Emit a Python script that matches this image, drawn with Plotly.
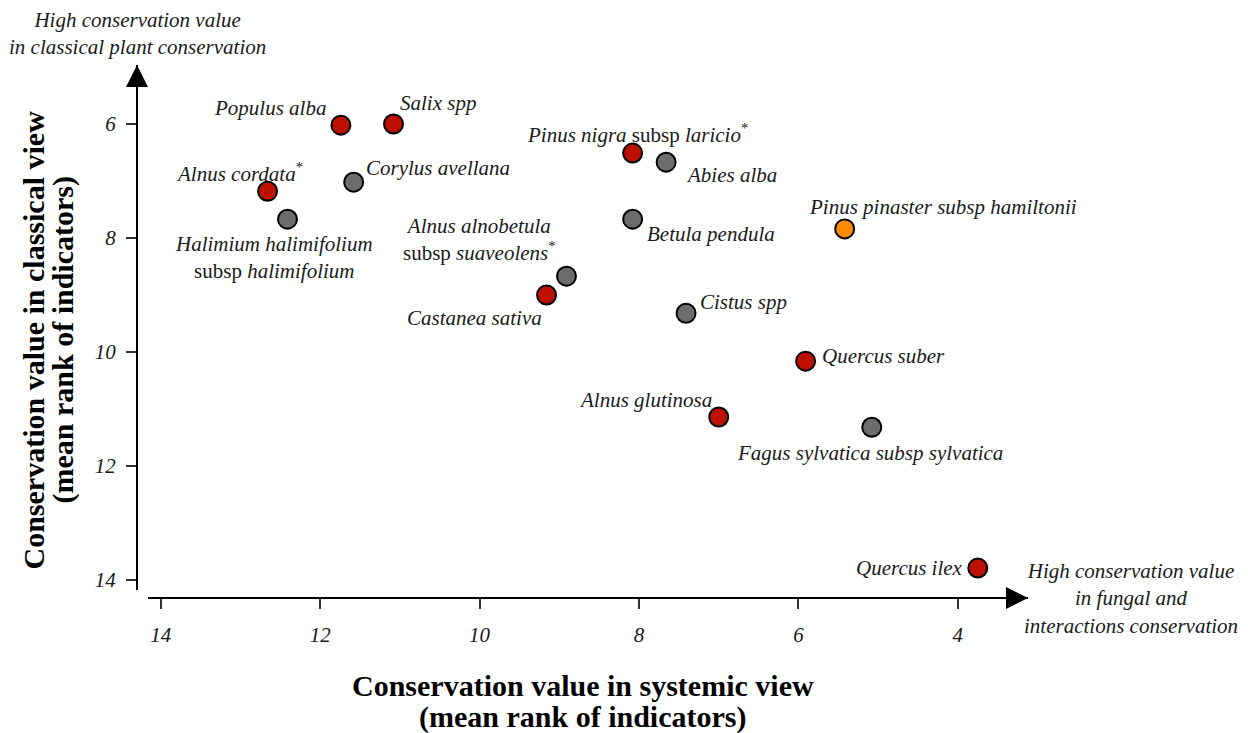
import plotly.graph_objects as go

# --- Data ---
species = [
    "Populus alba", "Salix spp", "Alnus cordata", "Corylus avellana",
    "Halimium halimifolium", "Pinus nigra laricio", "Abies alba", "Betula pendula",
    "Alnus alnobetula", "Castanea sativa", "Cistus spp", "Pinus pinaster hamiltonii",
    "Quercus suber", "Alnus glutinosa", "Fagus sylvatica", "Quercus ilex",
]
label_html = [
    "<i>Populus alba</i>",
    "<i>Salix spp</i>",
    "<i>Alnus cordata</i><sup>*</sup>",
    "<i>Corylus avellana</i>",
    "<i>Halimium halimifolium</i><br>subsp <i>halimifolium</i>",
    "<i>Pinus nigra</i> subsp <i>laricio</i><sup>*</sup>",
    "<i>Abies alba</i>",
    "<i>Betula pendula</i>",
    "<i>Alnus alnobetula</i><br>subsp <i>suaveolens</i><sup>*</sup>",
    "<i>Castanea sativa</i>",
    "<i>Cistus spp</i>",
    "<i>Pinus pinaster subsp hamiltonii</i>",
    "<i>Quercus suber</i>",
    "<i>Alnus glutinosa</i>",
    "<i>Fagus sylvatica subsp sylvatica</i>",
    "<i>Quercus ilex</i>",
]
systemic_rank = [11.74, 11.08, 12.66, 11.58, 12.41, 8.08, 7.66, 8.08,
                 8.91, 9.16, 7.41, 5.42, 5.91, 7.00, 5.08, 3.75]
classical_rank = [6.02, 6.00, 7.18, 7.02, 7.67, 6.51, 6.67, 7.67,
                  8.67, 9.00, 9.32, 7.84, 10.16, 11.14, 11.32, 13.79]
group = ["red", "red", "red", "grey", "grey", "red", "grey", "grey",
         "grey", "red", "grey", "orange", "red", "red", "grey", "red"]

x_ticks = [14, 12, 10, 8, 6, 4]
y_ticks = [6, 8, 10, 12, 14]

x_title = ["Conservation value in systemic view", "(mean rank of indicators)"]
y_title = ["Conservation value in classical view", "(mean rank of indicators)"]

# --- Styling ---
colors = {"red": "#BE1000", "grey": "#6C6C6C", "orange": "#FF8A00"}
# label placement: (xanchor, xshift px, yshift px)
label_pos = [
    ("right", -13, 17), ("left", 4, 21), ("center", -28, 19), ("left", 10, 14),
    ("center", -13, -38), ("center", 5, 20), ("left", 18, -13), ("left", 12, -15),
    ("center", -87, 37), ("center", -72, -23), ("left", 12, 11), ("center", 98, 22),
    ("left", 14, 5), ("right", -5, 17), ("center", -2, -26), ("right", -13, 0),
]
SERIF = "Liberation Serif"
INK = "#1a1a1a"

# the page adds an 8px body margin, so the figure is drawn 8px in from the corner
W, H = 1240, 725
L, R, T, B = 129, W - 1020, 57, H - 590
plot_w = W - L - R
plot_h = H - T - B

fig = go.Figure()
fig.add_trace(go.Scatter(
    x=systemic_rank,
    y=classical_rank,
    mode="markers",
    marker=dict(size=19, color=[colors[g] for g in group],
                line=dict(color="black", width=2)),
    text=species,
    hoverinfo="text",
    showlegend=False,
))

annotations = []
for xv, yv, txt, (anc, dx, dy) in zip(systemic_rank, classical_rank, label_html, label_pos):
    annotations.append(dict(
        x=xv, y=yv, xref="x", yref="y", text=txt, showarrow=False,
        xanchor=anc, yanchor="middle", xshift=dx, yshift=dy,
        font=dict(family=SERIF, size=21, color=INK), align="center",
    ))

# arrowheads at the ends of the axis lines
annotations.append(dict(x=0, y=1, xref="paper", yref="paper", ax=0, ay=40,
                        text="", showarrow=True, arrowhead=2, arrowsize=2.2,
                        arrowwidth=2, arrowcolor="black"))
annotations.append(dict(x=1, y=0, xref="paper", yref="paper", ax=-40, ay=0,
                        text="", showarrow=True, arrowhead=2, arrowsize=2.2,
                        arrowwidth=2, arrowcolor="black"))

# direction notes
annotations.append(dict(x=0, y=1, xref="paper", yref="paper", xanchor="center",
                        yanchor="bottom", yshift=4, showarrow=False, align="center",
                        text="High conservation value<br>in classical plant conservation",
                        font=dict(family=SERIF, size=21, color=INK, style="italic")))
annotations.append(dict(x=1, y=0, xref="paper", yref="paper", xanchor="left",
                        yanchor="middle", xshift=-6, yshift=0, showarrow=False,
                        align="center",
                        text="High conservation value<br>in fungal and<br>interactions conservation",
                        font=dict(family=SERIF, size=21, color=INK, style="italic")))

# axis titles, one annotation per line to keep the tight line spacing
for line, dy in zip(x_title, [-87, -119]):
    annotations.append(dict(x=0.5, y=0, xref="paper", yref="paper", xanchor="center",
                            yanchor="middle", yshift=dy, showarrow=False,
                            text=f"<b>{line}</b>",
                            font=dict(family=SERIF, size=30, color="black")))
for line, dx in zip(y_title, [-104, -75]):
    annotations.append(dict(x=0, y=0.5, xref="paper", yref="paper", xanchor="center",
                            yanchor="middle", xshift=dx, yshift=-9, showarrow=False,
                            textangle=-90, text=f"<b>{line}</b>",
                            font=dict(family=SERIF, size=30, color="black")))

fig.update_layout(
    width=W, height=H,
    margin=dict(l=L, r=R, t=T, b=B, pad=0, autoexpand=False),
    plot_bgcolor="white", paper_bgcolor="white",
    annotations=annotations,
    xaxis=dict(
        range=[14.16, 3.12], domain=[11 / plot_w, 1], anchor="free", position=0,
        tickvals=x_ticks, ticktext=[str(v) for v in x_ticks],
        ticks="outside", ticklen=10, tickwidth=2, tickcolor="#333",
        showline=True, linecolor="black", linewidth=2,
        showgrid=False, zeroline=False, automargin=False,
        tickfont=dict(family=SERIF, size=21, color=INK, style="italic"),
        ticklabelstandoff=8,
    ),
    yaxis=dict(
        range=[14.175, 4.965], domain=[8 / plot_h, 1], anchor="free", position=0,
        tickvals=y_ticks, ticktext=[str(v) for v in y_ticks],
        ticks="outside", ticklen=10, tickwidth=2, tickcolor="#333",
        showline=True, linecolor="black", linewidth=2,
        showgrid=False, zeroline=False, automargin=False,
        tickfont=dict(family=SERIF, size=21, color=INK, style="italic"),
        ticklabelstandoff=6,
    ),
)

fig.write_html("out.html")
